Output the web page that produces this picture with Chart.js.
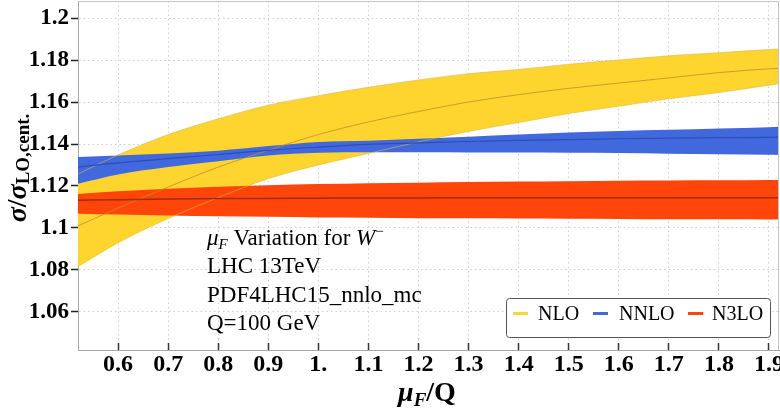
<!DOCTYPE html>
<html>
<head>
<meta charset="utf-8">
<script src="https://cdn.jsdelivr.net/npm/chart.js@4.4.1/dist/chart.umd.min.js"></script>
<style>html,body{margin:0;padding:0;background:#fff}</style>
</head>
<body>
<canvas id="c" width="780" height="413"></canvas>
<script>
// mu_F / Q sample points
const muF = [0.52, 0.6, 0.7, 0.8, 0.9, 1.0, 1.1, 1.2, 1.3, 1.4, 1.5, 1.6, 1.7, 1.8, 1.9, 1.92];

const nloUpper   = [1.1257, 1.1348, 1.1445, 1.1520, 1.1585, 1.1630, 1.1670, 1.1705, 1.1735, 1.1755, 1.1780, 1.1800, 1.1820, 1.1835, 1.1850, 1.1852];
const nloCentral = [1.1010, 1.1095, 1.1195, 1.1290, 1.1370, 1.1445, 1.1505, 1.1555, 1.1600, 1.1635, 1.1665, 1.1690, 1.1715, 1.1740, 1.1758, 1.1760];
const nloLower   = [1.0816, 1.0930, 1.1045, 1.1145, 1.1235, 1.1300, 1.1355, 1.1410, 1.1460, 1.1502, 1.1545, 1.1580, 1.1615, 1.1645, 1.1680, 1.1687];

const nnloUpper   = [1.1338, 1.1345, 1.1355, 1.1368, 1.1390, 1.1410, 1.1416, 1.1425, 1.1435, 1.1445, 1.1455, 1.1462, 1.1468, 1.1474, 1.1480, 1.1482];
const nnloCentral = [1.1290, 1.1310, 1.1330, 1.1350, 1.1370, 1.1385, 1.1398, 1.1405, 1.1412, 1.1417, 1.1421, 1.1425, 1.1428, 1.1430, 1.1432, 1.1433];
const nnloLower   = [1.1211, 1.1255, 1.1290, 1.1318, 1.1345, 1.1358, 1.1361, 1.1361, 1.1360, 1.1359, 1.1358, 1.1357, 1.1354, 1.1351, 1.1349, 1.1348];

const n3loUpper   = [1.1162, 1.1175, 1.1187, 1.1196, 1.1203, 1.1209, 1.1213, 1.1216, 1.1219, 1.1221, 1.1223, 1.1225, 1.1226, 1.1227, 1.1228, 1.1229];
const n3loCentral = [1.1132, 1.1135, 1.1138, 1.1140, 1.1141, 1.1142, 1.1143, 1.1143, 1.1144, 1.1144, 1.1144, 1.1144, 1.1144, 1.1144, 1.1144, 1.1144];
const n3loLower   = [1.1068, 1.1064, 1.1060, 1.1056, 1.1053, 1.1050, 1.1049, 1.1047, 1.1046, 1.1045, 1.1044, 1.1043, 1.1042, 1.1042, 1.1041, 1.1041];

const xTicks = [0.6, 0.7, 0.8, 0.9, 1.0, 1.1, 1.2, 1.3, 1.4, 1.5, 1.6, 1.7, 1.8, 1.9];
const xTickLabels = ['0.6', '0.7', '0.8', '0.9', '1.', '1.1', '1.2', '1.3', '1.4', '1.5', '1.6', '1.7', '1.8', '1.9'];
const yTicks = [1.06, 1.08, 1.1, 1.12, 1.14, 1.16, 1.18, 1.2];
const yTickLabels = ['1.06', '1.08', '1.1', '1.12', '1.14', '1.16', '1.18', '1.2'];

const seriesNames = ['NLO', 'NNLO', 'N3LO'];
const seriesColors = ['#fed42f', '#4169dd', '#ff450a'];

const SERIF = '"Liberation Serif", "DejaVu Serif", serif';

function pts(ys) { return muF.map((x, i) => ({ x, y: ys[i] })); }

function band(ys, color, target, order) {
  return { data: pts(ys), borderColor: 'rgba(0,0,0,0)', borderWidth: 1, backgroundColor: color,
    fill: target === null ? false : { target }, pointRadius: 0, cubicInterpolationMode: 'monotone', order };
}

function curve(ys, color, width, order) {
  return { data: pts(ys), borderColor: color, borderWidth: width, fill: false,
    pointRadius: 0, cubicInterpolationMode: 'monotone', order };
}

// draws rich text runs: [text, font, dy]
function runs(ctx, parts, x, y) {
  let cx = x;
  for (const [t, font, dy] of parts) {
    ctx.font = font;
    ctx.fillText(t, cx, y + (dy || 0));
    cx += ctx.measureText(t).width;
  }
  return cx - x;
}
function runsWidth(ctx, parts) {
  let w = 0;
  for (const [t, font] of parts) { ctx.font = font; w += ctx.measureText(t).width; }
  return w;
}

const decorations = {
  id: 'decorations',
  afterDraw(chart) {
    const { ctx, chartArea: a } = chart;
    ctx.save();
    // top / right frame
    ctx.strokeStyle = '#c4c4c4';
    ctx.lineWidth = 1;
    ctx.beginPath();
    ctx.moveTo(a.left, a.top + 0.5); ctx.lineTo(a.right - 0.5, a.top + 0.5); ctx.lineTo(a.right - 0.5, a.bottom);
    ctx.stroke();

    ctx.fillStyle = '#000';
    ctx.textBaseline = 'alphabetic';
    ctx.textAlign = 'left';

    // x axis title
    const xt = [['\u03bc', 'bold italic 28px ' + SERIF, 0], ['F', 'bold italic 19px ' + SERIF, 5], ['/Q', 'bold 28px ' + SERIF, 0]];
    runs(ctx, xt, 427 - runsWidth(ctx, xt) / 2, 401);

    // y axis title
    const yt = [['\u03c3', 'bold italic 28px ' + SERIF, 0], ['/', 'bold 28px ' + SERIF, 0], ['\u03c3', 'bold italic 28px ' + SERIF, 0], ['LO,cent.', 'bold 19px ' + SERIF, 3]];
    ctx.save();
    ctx.translate(26, 168);
    ctx.rotate(-Math.PI / 2);
    runs(ctx, yt, -runsWidth(ctx, yt) / 2, 0);
    ctx.restore();

    // annotation block
    const reg = '23px ' + SERIF, it = 'italic 23px ' + SERIF;
    runs(ctx, [['\u03bc', it, 0], ['F', 'italic 15px ' + SERIF, 4], [' Variation for ', reg, 0], ['W', it, 0], ['\u2212', '15px ' + SERIF, -9]], 207, 245);
    runs(ctx, [['LHC 13TeV', reg, 0]], 207, 273);
    runs(ctx, [['PDF4LHC15_nnlo_mc', reg, 0]], 207, 302);
    runs(ctx, [['Q=100 GeV', reg, 0]], 207, 330);

    // legend
    const bx = 506, by = 298, bw = 264, bh = 39;
    ctx.beginPath();
    ctx.roundRect(bx + 0.5, by + 0.5, bw, bh, 3);
    ctx.fillStyle = '#fff';
    ctx.fill();
    ctx.strokeStyle = '#555';
    ctx.lineWidth = 1;
    ctx.stroke();
    const swatchX = [513, 593, 688], textX = [538, 619, 712];
    ctx.font = '20px ' + SERIF;
    seriesNames.forEach((name, i) => {
      ctx.strokeStyle = seriesColors[i];
      ctx.lineWidth = 3;
      ctx.beginPath();
      ctx.moveTo(swatchX[i], 313.5); ctx.lineTo(swatchX[i] + 15, 313.5);
      ctx.stroke();
      ctx.fillStyle = '#000';
      ctx.fillText(name, textX[i], 320);
    });
    ctx.restore();
  }
};

new Chart(document.getElementById('c'), {
  type: 'line',
  data: {
    datasets: [
      band(nloUpper, seriesColors[0], 1, 30),
      band(nloLower, seriesColors[0], null, 31),
      band(nnloUpper, seriesColors[1], 3, 20),
      band(nnloLower, seriesColors[1], null, 21),
      band(n3loUpper, seriesColors[2], 5, 10),
      band(n3loLower, seriesColors[2], null, 11),
      curve(nloUpper, 'rgba(225,185,60,0.75)', 0.8, 4),
      curve(nloLower, 'rgba(225,185,60,0.75)', 0.8, 4),
      curve(nloCentral, 'rgba(185,145,45,0.8)', 1, 3),
      curve(nnloCentral, '#2c4eb3', 1.2, 2),
      curve(n3loCentral, '#a32b00', 1.5, 1)
    ]
  },
  options: {
    responsive: false,
    animation: false,
    devicePixelRatio: 1,
    layout: { padding: { top: 1, right: 1, left: 0, bottom: 0 } },
    plugins: { legend: { display: false }, tooltip: { enabled: false } },
    scales: {
      x: {
        type: 'linear', min: 0.52, max: 1.92,
        afterBuildTicks: (s) => { s.ticks = xTicks.map((v) => ({ value: v })); },
        afterFit: (s) => { s.height = 63; s.paddingLeft = 0; s.paddingRight = 0; },
        ticks: { callback: (v, i) => xTickLabels[i], color: '#000', font: { family: SERIF, size: 24, weight: 'bold' }, padding: 7, maxRotation: 0, autoSkip: false },
        grid: { color: '#cfcfcf', lineWidth: 1, drawTicks: true, tickLength: -7, tickColor: '#333', tickWidth: 1.5, tickBorderDash: [] },
        border: { color: '#aaa', width: 1, dash: [1.5, 3] }
      },
      y: {
        type: 'linear', min: 1.0419, max: 1.2081,
        afterBuildTicks: (s) => { s.ticks = yTicks.map((v) => ({ value: v })); },
        afterFit: (s) => { s.width = 78; s.paddingTop = 0; s.paddingBottom = 0; },
        ticks: { callback: (v, i) => yTickLabels[i], color: '#000', font: { family: SERIF, size: 23, weight: 'bold' }, padding: 2, autoSkip: false },
        grid: { color: '#cfcfcf', lineWidth: 1, drawTicks: true, tickLength: 7, tickColor: '#222', tickWidth: 1.5, tickBorderDash: [] },
        border: { color: '#aaa', width: 1, dash: [1.5, 3] }
      }
    }
  },
  plugins: [decorations]
});
</script>
</body>
</html>
